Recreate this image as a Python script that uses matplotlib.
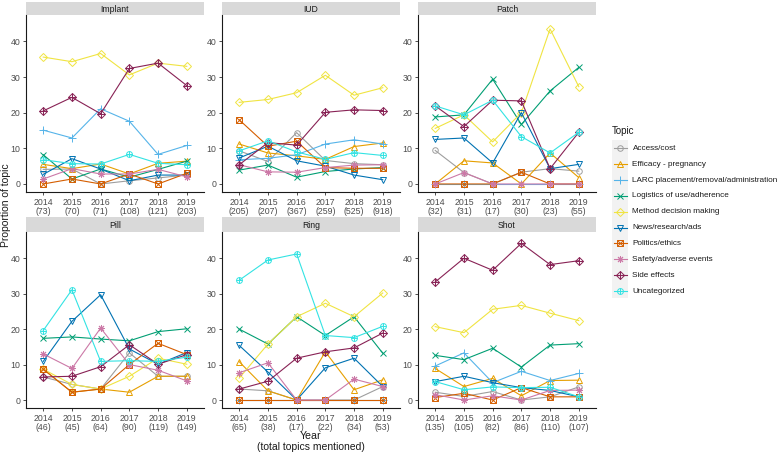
"""
Topic proportions by contraceptive method and year (faceted line chart).
"""
import numpy as np
from matplotlib import pyplot as plt

plt.rcParams['font.family'] = ['Liberation Sans', 'DejaVu Sans']

# Data
years = ['2014', '2015', '2016', '2017', '2018', '2019']
topics = ['Access/cost', 'Efficacy - pregnancy', 'LARC placement/removal/administration',
          'Logistics of use/adherence', 'Method decision making', 'News/research/ads',
          'Politics/ethics', 'Safety/adverse events', 'Side effects', 'Uncategorized']
methods = ['Implant', 'IUD', 'Patch', 'Pill', 'Ring', 'Shot']

implant_n = [73, 70, 71, 108, 121, 203]
iud_n = [205, 207, 367, 259, 525, 918]
patch_n = [32, 31, 17, 30, 23, 55]
pill_n = [46, 45, 64, 90, 119, 149]
ring_n = [65, 38, 17, 22, 34, 53]
shot_n = [135, 105, 82, 86, 110, 107]

implant = {
    'Access/cost': [4.1, 4.2, 0.0, 0.9, 1.7, 2.5],
    'Efficacy - pregnancy': [5.5, 4.3, 5.6, 2.8, 5.8, 6.4],
    'LARC placement/removal/administration': [15.1, 12.9, 21.1, 17.6, 8.3, 10.8],
    'Logistics of use/adherence': [8.2, 1.4, 4.2, 1.9, 4.1, 6.4],
    'Method decision making': [35.6, 34.3, 36.6, 30.6, 33.9, 33.0],
    'News/research/ads': [2.7, 7.1, 4.2, 0.9, 2.5, 2.5],
    'Politics/ethics': [0.0, 1.4, 0.0, 2.8, 0.0, 3.0],
    'Safety/adverse events': [1.4, 4.3, 2.8, 2.8, 4.1, 2.0],
    'Side effects': [20.5, 24.3, 19.7, 32.4, 33.9, 27.6],
    'Uncategorized': [6.8, 5.7, 5.6, 8.3, 5.8, 5.4],
}
iud = {
    'Access/cost': [9.3, 6.3, 14.4, 6.6, 5.7, 5.4],
    'Efficacy - pregnancy': [11.2, 8.7, 7.9, 6.9, 10.5, 11.5],
    'LARC placement/removal/administration': [6.8, 7.2, 8.2, 11.2, 12.4, 11.2],
    'Logistics of use/adherence': [3.9, 5.3, 1.9, 3.5, 4.2, 4.6],
    'Method decision making': [22.9, 23.7, 25.6, 30.5, 24.9, 27.0],
    'News/research/ads': [7.3, 10.6, 6.5, 5.0, 2.5, 1.2],
    'Politics/ethics': [18.0, 10.6, 12.0, 4.6, 4.4, 4.4],
    'Safety/adverse events': [5.4, 3.4, 3.3, 4.6, 5.3, 5.4],
    'Side effects': [5.4, 11.6, 10.9, 20.1, 20.8, 20.6],
    'Uncategorized': [9.3, 12.1, 9.0, 6.9, 8.8, 8.0],
}
patch = {
    'Access/cost': [9.4, 3.2, 0.0, 3.3, 4.3, 3.6],
    'Efficacy - pregnancy': [0.0, 6.5, 5.9, 0.0, 8.7, 1.8],
    'LARC placement/removal/administration': [0.0, 0.0, 0.0, 0.0, 0.0, 0.0],
    'Logistics of use/adherence': [18.8, 19.4, 29.4, 16.7, 26.1, 32.7],
    'Method decision making': [15.6, 19.4, 11.8, 20.0, 43.5, 27.3],
    'News/research/ads': [12.5, 12.9, 5.9, 20.0, 4.3, 5.5],
    'Politics/ethics': [0.0, 0.0, 0.0, 3.3, 0.0, 0.0],
    'Safety/adverse events': [0.0, 3.2, 0.0, 0.0, 0.0, 0.0],
    'Side effects': [21.9, 16.1, 23.5, 23.3, 4.3, 14.5],
    'Uncategorized': [21.9, 19.4, 23.5, 13.3, 8.7, 14.5],
}
pill = {
    'Access/cost': [6.5, 4.4, 3.1, 13.3, 6.7, 6.7],
    'Efficacy - pregnancy': [8.7, 2.2, 3.1, 2.2, 6.7, 6.7],
    'LARC placement/removal/administration': None,
    'Logistics of use/adherence': [17.4, 17.8, 17.2, 16.7, 19.3, 20.1],
    'Method decision making': [8.7, 4.4, 3.1, 6.7, 11.8, 10.1],
    'News/research/ads': [10.9, 22.2, 29.7, 14.4, 10.1, 13.4],
    'Politics/ethics': [8.7, 2.2, 3.1, 10.0, 16.0, 12.8],
    'Safety/adverse events': [13.0, 8.9, 20.3, 10.0, 8.4, 5.4],
    'Side effects': [6.5, 6.7, 9.4, 15.6, 10.1, 12.8],
    'Uncategorized': [19.6, 31.1, 10.9, 11.1, 10.9, 12.1],
}
ring = {
    'Access/cost': [3.1, 2.6, 0.0, 0.0, 0.0, 3.8],
    'Efficacy - pregnancy': [10.8, 2.6, 0.0, 13.6, 2.9, 5.7],
    'LARC placement/removal/administration': [0.0, 0.0, 0.0, 0.0, 0.0, 0.0],
    'Logistics of use/adherence': [20.0, 15.8, 23.5, 18.2, 23.5, 13.2],
    'Method decision making': [6.2, 15.8, 23.5, 27.3, 23.5, 30.2],
    'News/research/ads': [15.4, 7.9, 0.0, 9.1, 11.8, 3.8],
    'Politics/ethics': [0.0, 0.0, 0.0, 0.0, 0.0, 0.0],
    'Safety/adverse events': [7.7, 10.5, 0.0, 0.0, 5.9, 3.8],
    'Side effects': [3.1, 5.3, 11.8, 13.6, 14.7, 18.9],
    'Uncategorized': [33.8, 39.5, 41.2, 18.2, 17.6, 20.8],
}
shot = {
    'Access/cost': [2.2, 1.0, 2.4, 0.0, 0.9, 3.7],
    'Efficacy - pregnancy': [8.9, 3.8, 6.1, 1.2, 5.5, 5.6],
    'LARC placement/removal/administration': [9.6, 13.3, 4.9, 8.1, 5.5, 7.5],
    'Logistics of use/adherence': [12.6, 11.4, 14.6, 9.3, 15.5, 15.9],
    'Method decision making': [20.7, 19.0, 25.6, 26.7, 24.5, 22.4],
    'News/research/ads': [5.2, 6.7, 4.9, 3.5, 2.7, 0.9],
    'Politics/ethics': [0.7, 1.9, 0.0, 3.5, 0.9, 0.9],
    'Safety/adverse events': [1.5, 0.0, 1.2, 0.0, 2.7, 2.8],
    'Side effects': [33.3, 40.0, 36.6, 44.2, 38.2, 39.3],
    'Uncategorized': [5.2, 2.9, 3.7, 3.5, 3.6, 0.9],
}

panel_data = [implant, iud, patch, pill, ring, shot]
panel_counts = [implant_n, iud_n, patch_n, pill_n, ring_n, shot_n]

colors = {
    'Access/cost': '#9E9E9E',
    'Efficacy - pregnancy': '#E69F00',
    'LARC placement/removal/administration': '#56B4E9',
    'Logistics of use/adherence': '#009E73',
    'Method decision making': '#F0E442',
    'News/research/ads': '#0072B2',
    'Politics/ethics': '#D55E00',
    'Safety/adverse events': '#CC79A7',
    'Side effects': '#882255',
    'Uncategorized': '#33E3E3',
}
# (marker, size) layers, ggplot shapes 1..10
shapes = {
    'Access/cost': [('o', 4.0)],
    'Efficacy - pregnancy': [('^', 4.6)],
    'LARC placement/removal/administration': [('+', 5.5)],
    'Logistics of use/adherence': [('x', 4.2)],
    'Method decision making': [('D', 3.6)],
    'News/research/ads': [('v', 4.6)],
    'Politics/ethics': [('s', 3.8), ('x', 3.8)],
    'Safety/adverse events': [((8, 2, 0), 5.0)],
    'Side effects': [('D', 3.8), ('+', 5.2)],
    'Uncategorized': [('o', 4.2), ('+', 4.2)],
}

W, H = 777, 453
fig = plt.figure(figsize=(W / 100, H / 100), dpi=100)


def rect(x0, y0, x1, y1):
    return [x0 / W, 1 - y1 / H, (x1 - x0) / W, (y1 - y0) / H]


col_x = [(26, 204), (222, 400), (418, 596)]
row_y = [((2, 15), (15, 192)), ((217, 232), (232, 408))]
x = np.arange(len(years))

for i, method in enumerate(methods):
    r, c = divmod(i, 3)
    (sy0, sy1), (py0, py1) = row_y[r]
    x0, x1 = col_x[c]
    # strip
    sax = fig.add_axes(rect(x0, sy0, x1, sy1))
    sax.set_facecolor('#D9D9D9')
    sax.set_xticks([])
    sax.set_yticks([])
    for s in sax.spines.values():
        s.set_visible(False)
    sax.text(0.5, 0.45, method, ha='center', va='center', fontsize=6.2, color='#1A1A1A',
             transform=sax.transAxes)
    # panel
    ax = fig.add_axes(rect(x0, py0, x1, py1))
    data = panel_data[i]
    for t in topics:
        vals = data[t]
        if vals is None:
            continue
        col = colors[t]
        layers = shapes[t]
        m, ms = layers[0]
        ax.plot(x, vals, color=col, lw=0.8, marker=m, ms=ms, mfc='none', mec=col, mew=0.7)
        for m, ms in layers[1:]:
            ax.plot(x, vals, ls='none', marker=m, ms=ms, mfc='none', mec=col, mew=0.7)
    ax.set_xlim(-0.6, 5.6)
    ax.set_ylim(-2.25, 47.4)
    ax.set_yticks([0, 10, 20, 30, 40])
    ax.set_xticks(x)
    ax.set_xticklabels([f'{y}\n({n})' for y, n in zip(years, panel_counts[i])], linespacing=1.0)
    ax.tick_params(labelsize=6.3, labelcolor='#4D4D4D', length=2.5, width=0.6, color='#333333', pad=1.5)
    for s in ['top', 'right']:
        ax.spines[s].set_visible(False)
    for s in ['left', 'bottom']:
        ax.spines[s].set_linewidth(0.8)
        ax.spines[s].set_color('#1A1A1A')

# axis titles
fig.text(6 / W, 1 - 205 / H, 'Proportion of topic', rotation=90, ha='center', va='center',
         fontsize=7.5, color='#1A1A1A')
fig.text(311 / W, 1 - 436 / H, 'Year', ha='center', va='center', fontsize=7.7, color='#1A1A1A')
fig.text(311 / W, 1 - 447 / H, '(total topics mentioned)', ha='center', va='center',
         fontsize=7.5, color='#1A1A1A')

# legend
lax = fig.add_axes(rect(605, 120, 777, 305))
lax.set_xlim(605, 777)
lax.set_ylim(305, 120)
lax.axis('off')
lax.text(612, 131, 'Topic', fontsize=7, va='center', ha='left', color='#1A1A1A')
lax.add_patch(plt.Rectangle((612, 140), 16, 158, color='#F2F2F2', lw=0))
for k, t in enumerate(topics):
    yy = 148.3 + k * 15.86
    col = colors[t]
    lax.plot([613.5, 626.5], [yy, yy], color=col, lw=0.8)
    for m, ms in shapes[t]:
        lax.plot([620], [yy], ls='none', marker=m, ms=ms, mfc='none', mec=col, mew=0.7)
    lax.text(632.5, yy, t, fontsize=5.9, va='center', ha='left', color='#1A1A1A')

fig.savefig('out.png', dpi=100)
